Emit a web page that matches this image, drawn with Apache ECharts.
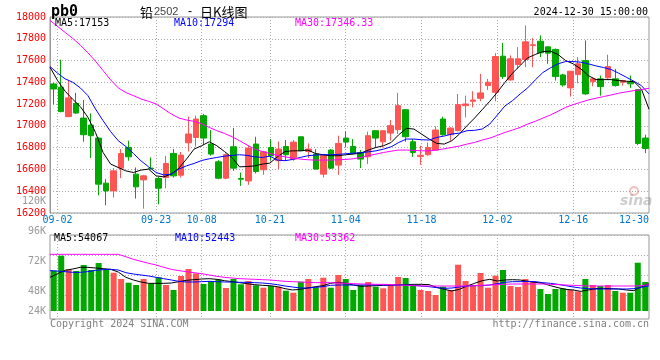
<!DOCTYPE html>
<html><head><meta charset="utf-8">
<script src="https://cdn.jsdelivr.net/npm/echarts@6/dist/echarts.min.js"></script>
<style>html,body{margin:0;padding:0;background:#fff}#c{width:660px;height:360px}</style>
</head><body><div id="c"></div>
<script>
const dates = ['08-30',
 '09-02','09-03','09-04','09-05','09-06','09-09','09-10','09-11','09-12','09-13','09-18','09-19','09-20',
 '09-23','09-24','09-25','09-26','09-27','09-30',
 '10-08','10-09','10-10','10-11','10-14','10-15','10-16','10-17','10-18',
 '10-21','10-22','10-23','10-24','10-25','10-28','10-29','10-30','10-31',
 '11-01','11-04','11-05','11-06','11-07','11-08','11-11','11-12','11-13','11-14','11-15',
 '11-18','11-19','11-20','11-21','11-22','11-25','11-26','11-27','11-28','11-29',
 '12-02','12-03','12-04','12-05','12-06','12-09','12-10','12-11','12-12','12-13',
 '12-16','12-17','12-18','12-19','12-20','12-23','12-24','12-25','12-26','12-27','12-30'];
const tickLabels = ['09-02','09-23','10-08','10-21','11-04','11-18','12-02','12-16','12-30'];

const opens = [17385,17355,17085,17207,17072,17008,16888,16474,16403,16612,
 16802,16557,16504,16612,16517,16526,16747,16547,16845,16894,
 17094,16833,16670,16520,16808,16517,16495,16833,16597,16802,
 16680,16811,16695,16900,16765,16741,16557,16778,16640,16888,
 16811,16756,16716,16956,16854,16934,16965,17149,16854,16720,
 16735,16778,17063,16919,16956,17186,17226,17253,17370,17309,
 17640,17422,17564,17610,17739,17778,17726,17702,17468,17349,
 17471,17600,17407,17432,17441,17432,17401,17404,17333,16888];
const closes = [17339,17131,17257,17118,16919,16910,16465,16403,16587,16747,
 16716,16440,16541,16606,16428,16655,16541,16732,16925,17063,
 16888,16741,16520,16735,16612,16510,16796,16581,16762,16725,
 16787,16735,16851,16772,16787,16603,16735,16612,16839,16851,
 16747,16695,16910,16888,16956,17002,17186,16900,16756,16730,
 16802,16962,16919,16980,17195,17201,17238,17303,17401,17637,
 17453,17616,17616,17772,17745,17671,17668,17453,17376,17502,
 17570,17294,17432,17361,17545,17370,17416,17386,16839,16793];
const lows = [17197,17125,17085,17110,16854,16704,16363,16271,16342,16520,
 16680,16333,16240,16600,16280,16428,16526,16526,16765,16808,
 16827,16726,16511,16510,16587,16449,16459,16563,16551,16680,
 16603,16680,16680,16772,16704,16600,16526,16603,16551,16802,
 16741,16612,16649,16802,16802,16864,16925,16854,16716,16643,
 16726,16772,16910,16864,16950,17079,17170,17226,17330,17226,
 17432,17416,17524,17539,17539,17631,17570,17416,17361,17269,
 17392,17284,17364,17278,17432,17361,17370,17349,16824,16750];
const highs = [17396,17607,17416,17303,17238,17115,16895,16511,16612,16787,
 16864,16618,16550,16710,16532,16725,16787,16760,17085,17094,
 17110,16962,16685,16747,16980,16572,16818,16900,16772,16879,
 16857,16870,16870,16900,16839,16787,16741,16787,16910,16950,
 16879,16778,16947,16956,16956,17054,17303,17155,16879,16818,
 16848,16996,17085,16987,17293,17278,17318,17478,17432,17668,
 17763,17647,17723,17923,17806,17831,17729,17711,17478,17502,
 17631,17785,17447,17462,17653,17524,17422,17462,17333,16919];

const ma5 = [17539,17416,17318,17244,17177,17079,16940,16756,16649,16618,
 16587,16572,16594,16603,16541,16532,16557,16612,16695,16787,
 16818,16854,16818,16765,16710,16624,16627,16633,16649,16658,
 16716,16765,16771,16771,16778,16747,16735,16726,16726,16735,
 16741,16750,16778,16802,16818,16848,16919,16977,16971,16925,
 16879,16839,16833,16864,16925,17002,17072,17149,17226,17309,
 17400,17484,17554,17625,17656,17683,17686,17656,17600,17570,
 17524,17462,17425,17425,17425,17416,17410,17407,17339,17153];
const ma10 = [17545,17484,17432,17401,17349,17278,17155,17048,16947,16864,
 16811,16747,16679,16624,16572,16550,16557,16603,16633,16655,
 16682,16698,16710,16722,16729,16735,16729,16716,16710,16722,
 16686,16680,16692,16710,16726,16732,16735,16735,16738,16744,
 16750,16753,16762,16771,16787,16808,16848,16879,16879,16873,
 16870,16894,16907,16925,16934,16956,16959,16971,17017,17100,
 17183,17232,17293,17349,17422,17490,17533,17570,17591,17591,
 17585,17570,17551,17536,17518,17484,17447,17410,17370,17294];
const ma30 = [17968,17914,17858,17803,17742,17671,17594,17508,17422,17349,
 17306,17278,17247,17226,17201,17155,17109,17072,17054,17042,
 17020,16986,16956,16931,16900,16864,16824,16787,16765,16747,
 16729,16716,16704,16695,16689,16686,16686,16686,16689,16692,
 16698,16710,16726,16741,16756,16768,16778,16778,16775,16771,
 16771,16778,16790,16802,16815,16833,16848,16870,16888,16913,
 16940,16962,16986,17017,17042,17072,17100,17134,17170,17195,
 17217,17238,17254,17269,17284,17300,17312,17324,17333,17346];

const volumes = [64534,76574,65657,64293,69110,65097,70715,65657,62930,57872,
 54903,53055,57872,54420,59235,53055,49042,60280,65897,62447,
 53858,56266,57630,50647,57872,53617,56266,52815,50888,52254,
 51692,48480,46875,55704,57872,51210,58914,50889,61083,57872,
 49042,53055,55464,51692,50354,53055,59476,58674,53055,49042,
 48240,45030,51692,49042,69350,56266,53055,62690,50889,60520,
 65097,52253,51450,57872,56266,49845,45833,49845,50354,49042,
 47910,57872,53055,52253,53055,48240,46875,46875,70946,55464];
const vma5 = [59210,62150,64830,65900,67238,67238,66700,66170,65633,63490,
 59210,57070,55460,54392,54392,54392,54660,55730,56800,57340,
 57870,58140,57604,56534,55730,54927,54125,53322,52790,52520,
 51717,50110,49042,49575,50645,51717,52520,54392,55195,54392,
 53055,51985,52252,52520,52790,53055,53055,53322,53590,53590,
 53322,51180,49575,48240,49575,52252,54392,56534,57604,56266,
 57070,57340,57070,56000,55195,54392,52520,50914,49575,49042,
 47970,49042,50110,50379,50110,49845,49042,48507,51717,54067];
const vma10 = [64560,64290,63758,63220,63220,63758,64830,65365,65633,65098,
 62955,61890,61086,60280,59210,58140,57070,56000,55460,55460,
 55730,56000,55730,55460,55460,55195,55195,54927,54660,54125,
 53322,52252,51450,50645,50645,51180,51717,52790,53055,53055,
 53055,53055,53055,53055,53055,53055,53055,53055,52790,52252,
 51717,50914,50379,50645,51450,52252,52520,52520,53055,54125,
 55195,55730,55730,56000,55730,54927,54392,53590,52520,51450,
 50645,50110,49845,49845,49845,49845,49845,50110,51180,52443];
const vma30 = [77673,77673,77673,77673,77673,77673,77673,77673,77673,77673,
 75797,73658,72050,70447,69110,67238,65633,64560,63758,62955,
 62150,61086,60010,59210,58674,58140,57870,57604,57340,57070,
 56534,56000,55730,55460,55195,54927,54927,54927,54660,54392,
 54125,53858,53858,53590,53590,53322,53055,52790,52520,52252,
 52252,52252,52252,52252,52252,52252,52520,52790,53055,53322,
 53590,53858,53858,53858,53858,53858,53590,53322,53055,52790,
 52520,52252,52252,52252,52252,52252,52252,52252,52520,53362];

const headerPrice = ['MA5:17153','MA10:17294','MA30:17346.33'];
const headerVol = ['MA5:54067','MA10:52443','MA30:53362'];

const RED = '#ff5555', GREEN = '#00a800';
const MONO = '"DejaVu Sans Mono", monospace';
const GRIDC = '#aaaaaa';
const isTick = i => tickLabels.indexOf(dates[i]) >= 0;
const dotted = {color: GRIDC, width: 1, type: [1, 2]};

const chart = echarts.init(document.getElementById('c'), null, {renderer: 'canvas'});
const t = (x, y, text, color, font, align) => ({
  type: 'text', x: x, y: y, silent: true, z: 100,
  style: {text: text, fill: color, font: font, align: align || 'left', verticalAlign: 'middle',
          textAlign: align || 'left', textVerticalAlign: 'middle'}
});
const F10 = '10px ' + MONO;

chart.setOption({
  animation: false,
  grid: [
    {left: 50, top: 17, width: 599, height: 196, show: true, borderColor: '#999', borderWidth: 1, outerBoundsMode: 'none'},
    {left: 50, top: 235, width: 599, height: 76, outerBoundsMode: 'none'},
    {left: 50, top: 235, width: 599, height: 84, show: true, borderColor: '#999', borderWidth: 1, outerBoundsMode: 'none'},
    {left: 50, top: 235, width: 599, height: 60, outerBoundsMode: 'none'},
    {left: 50, top: 201.5, width: 599, height: 149.6, outerBoundsMode: 'none'}
  ],
  xAxis: [
    {gridIndex: 0, type: 'category', data: dates, boundaryGap: true, show: false, position: 'bottom'},
    {gridIndex: 0, type: 'category', data: dates, boundaryGap: false, position: 'bottom',
      axisLine: {show: false}, axisTick: {show: false},
      axisLabel: {interval: (i) => isTick(i), color: '#0077cc', fontFamily: MONO, fontSize: 10, margin: 2, alignMaxLabel: 'right', hideOverlap: false},
      splitLine: {show: true, interval: (i) => isTick(i) && i < dates.length - 1, lineStyle: dotted}},
    {gridIndex: 1, type: 'category', data: dates, boundaryGap: true, show: false, position: 'bottom'},
    {gridIndex: 1, type: 'category', data: dates, boundaryGap: false, show: false, position: 'bottom'},
    {gridIndex: 2, type: 'category', data: dates, boundaryGap: false, position: 'bottom',
      axisLine: {show: false}, axisTick: {show: false}, axisLabel: {show: false},
      splitLine: {show: true, interval: (i) => isTick(i) && i < dates.length - 1, lineStyle: dotted}},
    {gridIndex: 3, type: 'category', data: dates, show: false, position: 'bottom'},
    {gridIndex: 4, type: 'category', data: dates, show: false, position: 'bottom'}
  ],
  yAxis: [
    {gridIndex: 0, type: 'value', min: 16200, max: 18000, interval: 200, position: 'left',
      axisLine: {show: true, lineStyle: {color: '#999'}}, axisTick: {show: false},
      axisLabel: {color: '#ff0000', fontFamily: MONO, fontSize: 10, margin: 4, formatter: v => String(v)},
      splitLine: {show: true, lineStyle: dotted}},
    {gridIndex: 1, type: 'value', min: 32185, max: 93190, show: false, splitLine: {show: false}},
    {gridIndex: 2, type: 'value', min: 0, max: 1, show: false, splitLine: {show: false}},
    {gridIndex: 3, type: 'value', min: 0, max: 3, interval: 1,
      axisLine: {show: false}, axisTick: {show: false}, axisLabel: {show: false},
      splitLine: {show: true, lineStyle: dotted}},
    {gridIndex: 4, type: 'value', min: 0, max: 120000, interval: 24000, position: 'left',
      axisLine: {show: false}, axisTick: {show: false}, splitLine: {show: false},
      axisLabel: {color: '#999', fontFamily: MONO, fontSize: 10, margin: 4,
        formatter: v => v === 0 ? '' : (v === 24000 ? '{lo|24K}' : (v / 1000) + 'K'),
        rich: {lo: {padding: [0, 0, 20, 0], color: '#999', fontFamily: MONO, fontSize: 10}}}}
  ],
  series: [
    {type: 'candlestick', xAxisIndex: 0, yAxisIndex: 0, barWidth: 6,
      data: opens.map((o, i) => [o, closes[i], lows[i], highs[i]]),
      itemStyle: {color: RED, color0: GREEN, borderColor: RED, borderColor0: GREEN, borderWidth: 1}},
    {type: 'line', xAxisIndex: 1, yAxisIndex: 0, data: ma5, symbol: 'none', lineStyle: {color: '#000', width: 1}, itemStyle: {color: '#000'}},
    {type: 'line', xAxisIndex: 1, yAxisIndex: 0, data: ma10, symbol: 'none', lineStyle: {color: '#0000ff', width: 1}, itemStyle: {color: '#0000ff'}},
    {type: 'line', xAxisIndex: 1, yAxisIndex: 0, data: ma30, symbol: 'none', lineStyle: {color: '#ff00ff', width: 1}, itemStyle: {color: '#ff00ff'}},
    {type: 'bar', xAxisIndex: 2, yAxisIndex: 1, barWidth: 6,
      data: volumes.map((v, i) => ({value: v, itemStyle: {color: closes[i] >= opens[i] ? RED : GREEN}}))},
    {type: 'line', xAxisIndex: 3, yAxisIndex: 1, data: vma5, symbol: 'none', lineStyle: {color: '#000', width: 1}, itemStyle: {color: '#000'}},
    {type: 'line', xAxisIndex: 3, yAxisIndex: 1, data: vma10, symbol: 'none', lineStyle: {color: '#0000ff', width: 1}, itemStyle: {color: '#0000ff'}},
    {type: 'line', xAxisIndex: 3, yAxisIndex: 1, data: vma30, symbol: 'none', lineStyle: {color: '#ff00ff', width: 1}, itemStyle: {color: '#ff00ff'}}
  ],
  graphic: [
    t(51, 12, 'pb0', '#000', 'bold 15px ' + MONO),
    t(140, 12, '铅', '#000', '13px "Noto Sans CJK SC"'),
    t(154, 12, '2502', '#444', '11px "Liberation Sans"'),
    t(188, 12, '-', '#000', '12px "Liberation Sans"'),
    t(200, 12, '日K线图', '#000', '13px "Noto Sans CJK SC"'),
    t(648, 12, '2024-12-30 15:00:00', '#000', F10, 'right'),
    t(55, 23.5, headerPrice[0], '#000', F10),
    t(174, 23.5, headerPrice[1], '#0000ff', F10),
    t(295, 23.5, headerPrice[2], '#ff00ff', F10),
    t(54, 238.5, headerVol[0], '#000', F10),
    t(175, 238.5, headerVol[1], '#0000ff', F10),
    t(295, 238.5, headerVol[2], '#ff00ff', F10),
    t(50, 324, 'Copyright 2024 SINA.COM', '#808080', F10),
    t(649, 324, 'http://finance.sina.com.cn', '#808080', F10, 'right'),
    {type: 'circle', silent: true, z: 1, shape: {cx: 634, cy: 191, r: 4}, style: {fill: 'none', stroke: 'rgba(230,110,110,0.45)', lineWidth: 2}},
    t(620, 201, 'sina', 'rgba(130,130,130,0.4)', 'italic bold 14px "DejaVu Sans"')
  ]
});
</script>
</body></html>
